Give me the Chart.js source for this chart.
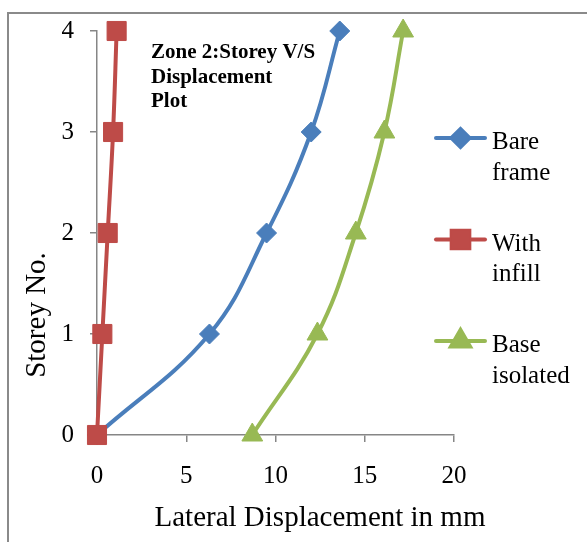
<!DOCTYPE html>
<html><head><meta charset="utf-8">
<script src="https://cdn.jsdelivr.net/npm/chart.js@4.4.0/dist/chart.umd.min.js"></script>
<style>html,body{margin:0;padding:0;background:#fff}canvas{display:block}</style>
</head><body>
<canvas id="c" width="587" height="542"></canvas>
<script>
const storeys = [0, 1, 2, 3, 4];
const seriesNames = [['Bare', 'frame'], ['With', 'infill'], ['Base', 'isolated']];
const bareFrame = [0, 6.3, 9.5, 12.0, 13.6];
const withInfill = [0, 0.3, 0.6, 0.9, 1.1];
const baseIsolated = [8.7, 12.35, 14.5, 16.1, 17.15];
const xTickValues = [0, 5, 10, 15, 20];
const yTickValues = [0, 1, 2, 3, 4];
const titleLines = ['Zone 2:Storey V/S', 'Displacement', 'Plot'];
const xTitle = 'Lateral Displacement in mm';
const yTitle = 'Storey No.';

const colors = ['#4a7ebb', '#be4b48', '#98b954'];
const styles = ['rectRot', 'rect', 'triangle'];
const radii = [10, 13.5, 12];
const seriesValues = [bareFrame, withInfill, baseIsolated];
const SERIF = '"Liberation Serif", "Times New Roman", serif';
const AXIS = '#868686';

const datasets = seriesValues.map((vals, i) => ({
  label: seriesNames[i].join(' '),
  data: vals.map((v, k) => ({x: v, y: storeys[k]})),
  borderColor: colors[i],
  backgroundColor: colors[i],
  pointBackgroundColor: colors[i],
  pointBorderColor: colors[i],
  pointBorderWidth: 1,
  pointStyle: styles[i],
  pointRadius: radii[i],
  borderWidth: 4,
  tension: 0.4,
  clip: false,
  order: 3 - i
}));

const decor = {
  id: 'decor',
  beforeDraw(chart) {
    const ctx = chart.ctx;
    ctx.save();
    ctx.fillStyle = '#fff';
    ctx.fillRect(0, 0, chart.width, chart.height);
    ctx.strokeStyle = '#8a8a8a';
    ctx.lineWidth = 2;
    ctx.beginPath();
    ctx.moveTo(8, 542); ctx.lineTo(8, 13); ctx.lineTo(587, 13);
    ctx.stroke();
    ctx.restore();
  },
  afterDraw(chart) {
    const ctx = chart.ctx;
    ctx.save();
    ctx.fillStyle = '#000';
    // title
    ctx.font = 'bold 21px ' + SERIF;
    ctx.textAlign = 'left';
    ctx.textBaseline = 'alphabetic';
    titleLines.forEach((t, i) => ctx.fillText(t, 151, 58 + i * 24.5));
    // axis titles
    ctx.font = '29px ' + SERIF;
    ctx.textAlign = 'center';
    ctx.fillText(xTitle, 320, 526);
    ctx.save();
    ctx.translate(45, 315);
    ctx.rotate(-Math.PI / 2);
    ctx.fillText(yTitle, 0, 0);
    ctx.restore();
    // legend
    ctx.font = '25px ' + SERIF;
    ctx.textAlign = 'left';
    seriesNames.forEach((lines, i) => {
      const ly = 138 + i * 101.5;
      ctx.strokeStyle = colors[i];
      ctx.lineWidth = 4;
      ctx.lineCap = 'round';
      ctx.beginPath();
      ctx.moveTo(436, ly); ctx.lineTo(485, ly);
      ctx.stroke();
      ctx.lineCap = 'butt';
      Chart.helpers.drawPoint(ctx, {
        pointStyle: styles[i], radius: radii[i] - 1, borderWidth: 1, rotation: 0
      }, 460.5, ly);
      ctx.fillStyle = colors[i];
      ctx.fill();
      ctx.fillStyle = '#000';
      lines.forEach((t, k) => ctx.fillText(t, 492, ly + 11 + k * 30.5));
    });
    ctx.restore();
  }
};

new Chart(document.getElementById('c'), {
  type: 'line',
  data: {datasets},
  options: {
    responsive: false,
    animation: false,
    devicePixelRatio: 1,
    layout: {padding: {top: 28, right: 133, left: 0, bottom: 0}},
    plugins: {legend: {display: false}, tooltip: {enabled: false}, title: {display: false}},
    scales: {
      x: {
        type: 'linear', min: 0, max: 20,
        afterBuildTicks: s => { s.ticks = xTickValues.map(v => ({value: v})); },
        afterFit: s => { s.height = 107; },
        ticks: {color: '#000', font: {family: SERIF, size: 25}, padding: 19, maxRotation: 0},
        grid: {drawOnChartArea: false, tickLength: 7, color: AXIS, lineWidth: 1.5},
        border: {color: AXIS, width: 1.5}
      },
      y: {
        type: 'linear', min: 0, max: 4,
        afterBuildTicks: s => { s.ticks = yTickValues.map(v => ({value: v})); },
        afterFit: s => { s.width = 97; },
        ticks: {color: '#000', font: {family: SERIF, size: 25}, padding: 16},
        grid: {drawOnChartArea: false, tickLength: 7, color: AXIS, lineWidth: 1.5},
        border: {color: AXIS, width: 1.5}
      }
    }
  },
  plugins: [decor]
});
</script>
</body></html>
